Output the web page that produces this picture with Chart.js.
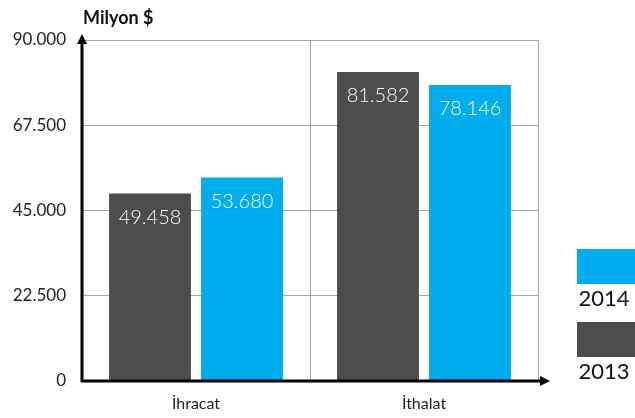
<!DOCTYPE html>
<html>
<head>
<meta charset="utf-8">
<script src="https://cdn.jsdelivr.net/npm/chart.js@4.4.1/dist/chart.umd.min.js"></script>
<style>
  html, body { margin: 0; padding: 0; background: #fff; }
  #wrap { width: 635px; height: 418px; position: relative; }
</style>
</head>
<body>
<div id="wrap"><canvas id="tradeChart"></canvas></div>
<script>
// DATA
const categories = ['İhracat', 'İthalat'];
const years = ['2013', '2014'];
const values2013 = [49458, 81582];
const values2014 = [53680, 78146];
const yTicks = [0, 22500, 45000, 67500, 90000];

const DARK = '#4d4d4f';
const CYAN = '#00aeef';
const FONT = 'Lato, "Open Sans", sans-serif';

// 49458 -> "49.458"
function fmt(n) {
    return String(n).replace(/\B(?=(\d{3})+(?!\d))/g, '.');
}

// axes with arrows, title, value labels and the side legend
const decorPlugin = {
    id: 'decor',
    afterDatasetsDraw(chart) {
        const ctx = chart.ctx;
        const area = chart.chartArea;
        ctx.save();

        // value labels inside the bars
        ctx.fillStyle = '#fff';
        ctx.font = '300 20px ' + FONT;
        ctx.textAlign = 'center';
        ctx.textBaseline = 'middle';
        chart.data.datasets.forEach((ds, i) => {
            chart.getDatasetMeta(i).data.forEach((bar, j) => {
                ctx.fillText(fmt(ds.data[j]), bar.x, bar.y + 24);
            });
        });

        // axis lines + arrow heads
        ctx.strokeStyle = '#000';
        ctx.fillStyle = '#000';
        ctx.lineWidth = 3;
        ctx.beginPath();
        ctx.moveTo(area.left, area.bottom + 1);
        ctx.lineTo(area.left, area.top - 1);
        ctx.moveTo(area.left - 1, area.bottom);
        ctx.lineTo(area.right + 6, area.bottom);
        ctx.stroke();
        ctx.beginPath();
        ctx.moveTo(area.left, area.top - 6);
        ctx.lineTo(area.left - 5, area.top + 4);
        ctx.lineTo(area.left + 5, area.top + 4);
        ctx.closePath();
        ctx.fill();
        ctx.beginPath();
        ctx.moveTo(area.right + 12, area.bottom);
        ctx.lineTo(area.right + 2, area.bottom - 5);
        ctx.lineTo(area.right + 2, area.bottom + 5);
        ctx.closePath();
        ctx.fill();

        // unit title
        ctx.font = 'bold 18px ' + FONT;
        ctx.textAlign = 'left';
        ctx.fillStyle = '#111';
        ctx.fillText('Milyon $', area.left + 1, 18);

        // legend, newest year on top
        const items = chart.data.datasets.slice().reverse();
        ctx.font = '22px ' + FONT;
        ctx.textAlign = 'center';
        items.forEach((ds, k) => {
            const top = 249 + k * 73;
            ctx.fillStyle = ds.backgroundColor;
            ctx.fillRect(area.right + 39, top, 58, 35);
            ctx.fillStyle = '#111';
            ctx.fillText(ds.label, area.right + 66, top + 50);
        });
        ctx.restore();
    }
};

function initChart() {
    const ctx = document.getElementById('tradeChart').getContext('2d');
    new Chart(ctx, {
        type: 'bar',
        data: {
            labels: categories,
            datasets: [{
                label: years[0],
                data: values2013,
                backgroundColor: DARK
            }, {
                label: years[1],
                data: values2014,
                backgroundColor: CYAN
            }]
        },
        options: {
            responsive: true,
            maintainAspectRatio: false,
            animation: false,
            categoryPercentage: 0.807,
            barPercentage: 0.89,
            layout: { padding: { top: 40, right: 97, left: 0, bottom: 0 } },
            plugins: {
                legend: { display: false },
                tooltip: { enabled: false }
            },
            scales: {
                x: {
                    grid: { offset: true, color: '#a6a6a6', lineWidth: 1, drawTicks: false },
                    border: { display: false },
                    ticks: { color: '#222', font: { family: FONT, size: 16 }, padding: 13 },
                    afterFit: s => { s.height = 37; }
                },
                y: {
                    min: 0,
                    max: 90000,
                    afterBuildTicks: s => { s.ticks = yTicks.map(v => ({ value: v })); },
                    grid: { color: '#a6a6a6', lineWidth: 1, drawTicks: false },
                    border: { display: false },
                    ticks: {
                        color: '#222',
                        font: { family: FONT, size: 17 },
                        padding: 16,
                        callback: v => fmt(v)
                    },
                    afterFit: s => { s.width = 82; }
                }
            }
        },
        plugins: [decorPlugin]
    });
}

initChart();
</script>
</body>
</html>
